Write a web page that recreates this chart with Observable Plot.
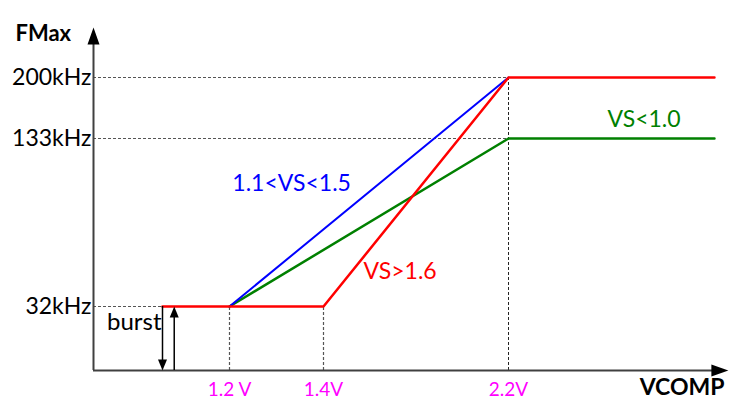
<!DOCTYPE html>
<html>
<head>
<meta charset="utf-8">
<script src="https://cdn.jsdelivr.net/npm/d3@7"></script>
<script src="https://cdn.jsdelivr.net/npm/@observablehq/plot@0.6"></script>
<style>
  html, body { margin: 0; padding: 0; background: #fff; }
</style>
</head>
<body>
<div id="chart"></div>
<script>
// ---- data ----
const xAnchors = [0, 1.0, 1.2, 1.4, 2.2, 3.0];        // VCOMP (V) schematic breakpoints
const yAnchors = [0, 32, 133, 200, 220];              // FMax (kHz) schematic breakpoints
const xTicks = [1.2, 1.4, 2.2];
const xTickLabels = ["1.2 V", "1.4V", "2.2V"];
const yTicks = [32, 133, 200];
const yTickLabels = ["32kHz", "133kHz", "200kHz"];

const redV = [1.0, 1.4, 2.2, 2.97];   // VS>1.6
const redF = [32, 32, 200, 200];
const blueV = [1.2, 2.2];             // 1.1<VS<1.5
const blueF = [32, 200];
const greenV = [1.2, 2.2, 2.97];      // VS<1.0
const greenF = [32, 133, 133];

const burstStart = 1.0;
const burstArrowV = 1.035;
const seriesNames = ["1.1<VS<1.5", "VS>1.6", "VS<1.0"];
const seriesColors = ["#0000ff", "#ff0000", "#008000"];
const seriesLabelV = [1.206, 1.573, 2.57];
const seriesLabelF = [106, 53, 154];

// ---- helpers ----
const pts = (xs, ys) => xs.map((x, i) => ({x, y: ys[i]}));
const arrowHead = (len, half) => ({
  draw(ctx) { ctx.moveTo(0, 0); ctx.lineTo(half, len); ctx.lineTo(-half, len); ctx.closePath(); }
});
const bigHead = arrowHead(17, 6);
const smallHead = arrowHead(11, 4.5);

const axisCol = "#404040";
const dashCol = "#555";

const chart = Plot.plot({
  width: 730,
  height: 401,
  margin: 0,
  style: {fontFamily: "Lato, 'Open Sans', sans-serif", background: "#fff"},
  x: {type: "linear", domain: xAnchors, range: [93, 162, 229, 323, 508, 722], axis: null},
  y: {type: "linear", domain: yAnchors, range: [370, 306, 138, 77, 27], axis: null},
  marks: [
    // dashed guide lines (horizontal)
    Plot.ruleY([200, 133], {x1: 0, x2: 2.2, stroke: dashCol, strokeWidth: 1, strokeDasharray: "3,2"}),
    Plot.ruleY([32], {x1: 0, x2: burstStart, stroke: dashCol, strokeWidth: 1, strokeDasharray: "3,2"}),
    // dashed guide lines (vertical)
    Plot.ruleX([1.2, 1.4], {y1: 0, y2: 32, stroke: dashCol, strokeWidth: 1.2, strokeDasharray: "3,2"}),
    Plot.ruleX([2.2], {y1: 0, y2: 200, stroke: "#222", strokeWidth: 1, strokeDasharray: "3,2"}),
    // axes
    Plot.ruleX([0], {y1: 0, y2: 216, stroke: axisCol, strokeWidth: 2}),
    Plot.ruleY([0], {x1: 0, x2: 3.0, stroke: axisCol, strokeWidth: 2}),
    Plot.dot([{x: 0, y: 220}], {x: "x", y: "y", symbol: bigHead, fill: "#000", stroke: null, r: 5}),
    Plot.dot([{x: 3.022, y: 0}], {x: "x", y: "y", symbol: bigHead, fill: "#000", stroke: null, r: 5, rotate: 90}),
    // series
    Plot.line(pts(greenV, greenF), {x: "x", y: "y", stroke: seriesColors[2], strokeWidth: 2.5}),
    Plot.line(pts(blueV, blueF), {x: "x", y: "y", stroke: seriesColors[0], strokeWidth: 2}),
    Plot.line(pts(redV, redF), {x: "x", y: "y", stroke: seriesColors[1], strokeWidth: 2.5}),
    // burst arrows
    Plot.ruleX([burstStart], {y1: 32, y2: 2, stroke: "#000", strokeWidth: 1.5}),
    Plot.dot([{x: burstStart, y: 0}], {x: "x", y: "y", symbol: smallHead, fill: "#000", stroke: null, rotate: 180}),
    Plot.ruleX([burstArrowV], {y1: 0, y2: 30, stroke: "#000", strokeWidth: 1.5}),
    Plot.dot([{x: burstArrowV, y: 32}], {x: "x", y: "y", symbol: smallHead, fill: "#000", stroke: null}),
    Plot.text(["burst"], {x: burstStart, y: 24, text: d => d, textAnchor: "end", dx: -1, fontSize: 24, fill: "#000"}),
    // tick labels
    Plot.text(xTicks, {x: d => d, y: 0, text: (d, i) => xTickLabels[i], dy: 19, fontSize: 19, fill: "#ff00ff"}),
    Plot.text(yTicks, {x: 0, y: d => d, text: (d, i) => yTickLabels[i], textAnchor: "end", dx: -2, fontSize: 23, fill: "#000"}),
    // series labels
    Plot.text(seriesNames, {x: (d, i) => seriesLabelV[i], y: (d, i) => seriesLabelF[i], text: d => d, textAnchor: "start", fontSize: 23, fill: (d, i) => seriesColors[i]}),
    // axis titles
    Plot.text(["FMax"], {frameAnchor: "top-left", dx: 15, dy: 25, text: d => d, textAnchor: "start", fontSize: 22, fontWeight: "bold", fill: "#000"}),
    Plot.text(["VCOMP"], {x: 3.0, y: 0, text: d => d, textAnchor: "end", dx: 2, dy: 17, fontSize: 23, fontWeight: "bold", fill: "#000"})
  ]
});
document.getElementById("chart").appendChild(chart);
</script>
</body>
</html>
